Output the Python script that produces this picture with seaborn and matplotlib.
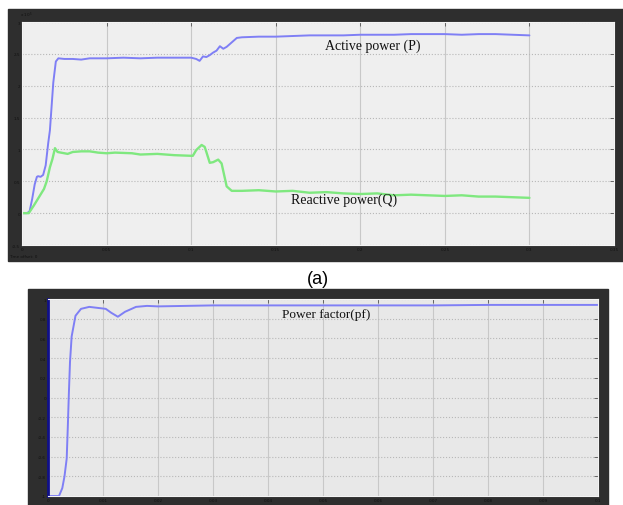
import numpy as np
import pandas as pd
import matplotlib
matplotlib.use("Agg")
import matplotlib.pyplot as plt
import seaborn as sns
from matplotlib.patches import Rectangle

# ========== DATA ==========
# (a) active / reactive power, values in units of 1e5
t_p = [0, 0.003, 0.0045, 0.006, 0.0075, 0.0088, 0.0095, 0.011, 0.0125, 0.014, 0.0155,
       0.0165, 0.0185, 0.020, 0.0215, 0.025, 0.03, 0.035, 0.04, 0.045, 0.05, 0.06,
       0.07, 0.08, 0.09, 0.1, 0.103, 0.105, 0.107, 0.109, 0.111, 0.113, 0.115, 0.117,
       0.119, 0.121, 0.124, 0.127, 0.13, 0.14, 0.15, 0.16, 0.17, 0.18, 0.19, 0.2,
       0.21, 0.22, 0.23, 0.24, 0.25, 0.26, 0.27, 0.28, 0.29, 0.3]
p_val = [0, 0, 0.03, 0.22, 0.45, 0.57, 0.58, 0.57, 0.6, 0.75, 1.1,
         1.3, 2.05, 2.38, 2.43, 2.42, 2.42, 2.41, 2.43, 2.43, 2.43, 2.44,
         2.43, 2.44, 2.44, 2.44, 2.42, 2.39, 2.46, 2.45, 2.48, 2.52, 2.55, 2.62,
         2.58, 2.61, 2.68, 2.75, 2.76, 2.77, 2.77, 2.78, 2.79, 2.79, 2.79, 2.80,
         2.80, 2.80, 2.81, 2.81, 2.81, 2.80, 2.81, 2.81, 2.80, 2.79]

t_q = [0, 0.004, 0.007, 0.01, 0.013, 0.0146, 0.0165, 0.018, 0.0195, 0.021, 0.023,
       0.027, 0.03, 0.035, 0.04, 0.045, 0.05, 0.055, 0.065, 0.07, 0.08, 0.09, 0.1,
       0.101, 0.103, 0.1062, 0.108, 0.109, 0.111, 0.113, 0.116, 0.118, 0.1195, 0.121,
       0.124, 0.13, 0.14, 0.15, 0.16, 0.17, 0.18, 0.19, 0.2, 0.21, 0.22, 0.23, 0.24,
       0.25, 0.26, 0.27, 0.28, 0.29, 0.3]
q_val = [0, 0, 0.12, 0.25, 0.38, 0.5, 0.72, 0.85, 1.02, 0.96, 0.95,
         0.93, 0.96, 0.97, 0.97, 0.95, 0.94, 0.95, 0.94, 0.92, 0.93, 0.91, 0.9,
         0.9, 0.99, 1.07, 1.04, 0.96, 0.79, 0.8, 0.84, 0.78, 0.6, 0.42,
         0.35, 0.35, 0.36, 0.34, 0.35, 0.32, 0.33, 0.31, 0.30, 0.31, 0.28, 0.29, 0.28,
         0.27, 0.28, 0.26, 0.26, 0.25, 0.24]

# (b) power factor
t_pf = [0, 0.002, 0.0026, 0.003, 0.0034, 0.0036, 0.0038, 0.004, 0.0043, 0.005, 0.006,
        0.0075, 0.009, 0.0105, 0.0115, 0.0127, 0.014, 0.016, 0.018, 0.02, 0.03, 0.05,
        0.07, 0.08, 0.09, 0.1]
pf_val = [-1, -1, -0.92, -0.8, -0.62, -0.3, 0.05, 0.36, 0.62, 0.83, 0.9,
          0.92, 0.91, 0.9, 0.86, 0.82, 0.87, 0.92, 0.93, 0.925, 0.935, 0.935,
          0.935, 0.94, 0.94, 0.94]

xt_top = [0, 0.05, 0.1, 0.15, 0.2, 0.25, 0.3, 0.35]
yt_top = [-0.5, 0, 0.5, 1, 1.5, 2, 2.5, 3]
xt_bot = [0, 0.01, 0.02, 0.03, 0.04, 0.05, 0.06, 0.07, 0.08, 0.09, 0.1]
yt_bot = [-1, -0.8, -0.6, -0.4, -0.2, 0, 0.2, 0.4, 0.6, 0.8, 1]

df_p = pd.DataFrame({"t": t_p, "v": p_val})
df_q = pd.DataFrame({"t": t_q, "v": q_val})
df_pf = pd.DataFrame({"t": t_pf, "v": pf_val})

# ========== FIGURE ==========
sns.set_style("white")
plt.rcParams["font.family"] = ["DejaVu Sans"]
W, H = 623, 506
fig = plt.figure(figsize=(W / 100, H / 100), dpi=100)
fig.patch.set_facecolor("white")

frame_col = "#2e2e2e"

def px(x0, y0, x1, y1):
    return [x0 / W, 1 - y1 / H, (x1 - x0) / W, (y1 - y0) / H]

# dark scope frames
for (x0, y0, x1, y1) in [(8, 10, 623, 262), (28, 290, 608, 506)]:
    fig.patches.append(Rectangle((x0 / W, 1 - y1 / H), (x1 - x0) / W, (y1 - y0) / H,
                                 transform=fig.transFigure, color=frame_col, zorder=-10))


def scope_axes(rect, bg, xt, yt, xlim, ylim):
    ax = fig.add_axes(rect)
    ax.set_zorder(5)
    ax.set_facecolor(bg)
    ax.set_xlim(*xlim)
    ax.set_ylim(*ylim)
    ax.set_xticks(xt)
    ax.set_yticks(yt)
    ax.set_xticklabels([f"{v:g}" for v in xt], fontsize=3, color="#111111")
    ax.set_yticklabels([f"{v:g}" for v in yt], fontsize=3, color="#111111")
    ax.tick_params(direction="in", length=3, width=0.6, color="#555555",
                   top=True, right=True, pad=1.5)
    ax.xaxis.grid(True, color="#c8c8c8", linestyle="-", linewidth=0.8)
    ax.yaxis.grid(True, color="#b8b8b8", linestyle=":", linewidth=0.8)
    ax.set_axisbelow(True)
    for s in ax.spines.values():
        s.set_color("#f4f4f4")
        s.set_linewidth(0.8)
    return ax


# ---- (a) P and Q ----
ax1 = scope_axes(px(22, 23, 614, 246), "#efefef", xt_top, yt_top, (0, 0.35), (-0.5, 3))
sns.lineplot(data=df_p, x="t", y="v", ax=ax1, color="#7f7ff5", linewidth=1.4)
sns.lineplot(data=df_q, x="t", y="v", ax=ax1, color="#7fe87f", linewidth=1.7)
ax1.set_xlim(0, 0.35)
ax1.set_xlabel("")
ax1.set_ylabel("")
ax1.text(0.179, 2.74, "Active power (P)", family="Liberation Serif", fontsize=10,
         va="top", color="#111111")
ax1.text(0.159, 0.32, "Reactive power(Q)", family="Liberation Serif", fontsize=10,
         va="top", color="#111111")
fig.text(20 / W, 1 - 15 / H, "x 10$^5$", fontsize=3, color="#111111", va="center")
fig.text(9 / W, 1 - 257 / H, "Time offset: 0", fontsize=3, color="#111111", va="center")

fig.text(318 / W, 1 - 279 / H, "(a)", family="Liberation Sans", fontsize=13,
         ha="center", va="center", color="black")

# ---- (b) power factor ----
ax2 = scope_axes(px(48, 300, 598, 497), "#e8e8e8", xt_bot, yt_bot, (0, 0.1), (-1, 1))
sns.lineplot(data=df_pf, x="t", y="v", ax=ax2, color="#7f7ff5", linewidth=1.4)
ax2.set_xlim(0, 0.1)
ax2.set_xlabel("")
ax2.set_ylabel("")
ax2.spines["left"].set_color("#10108a")
ax2.spines["left"].set_linewidth(2)
ax2.text(0.0426, 0.85, "Power factor(pf)", family="Liberation Serif", fontsize=9.5,
         va="center", color="#111111")

fig.savefig("out.png", dpi=100)
